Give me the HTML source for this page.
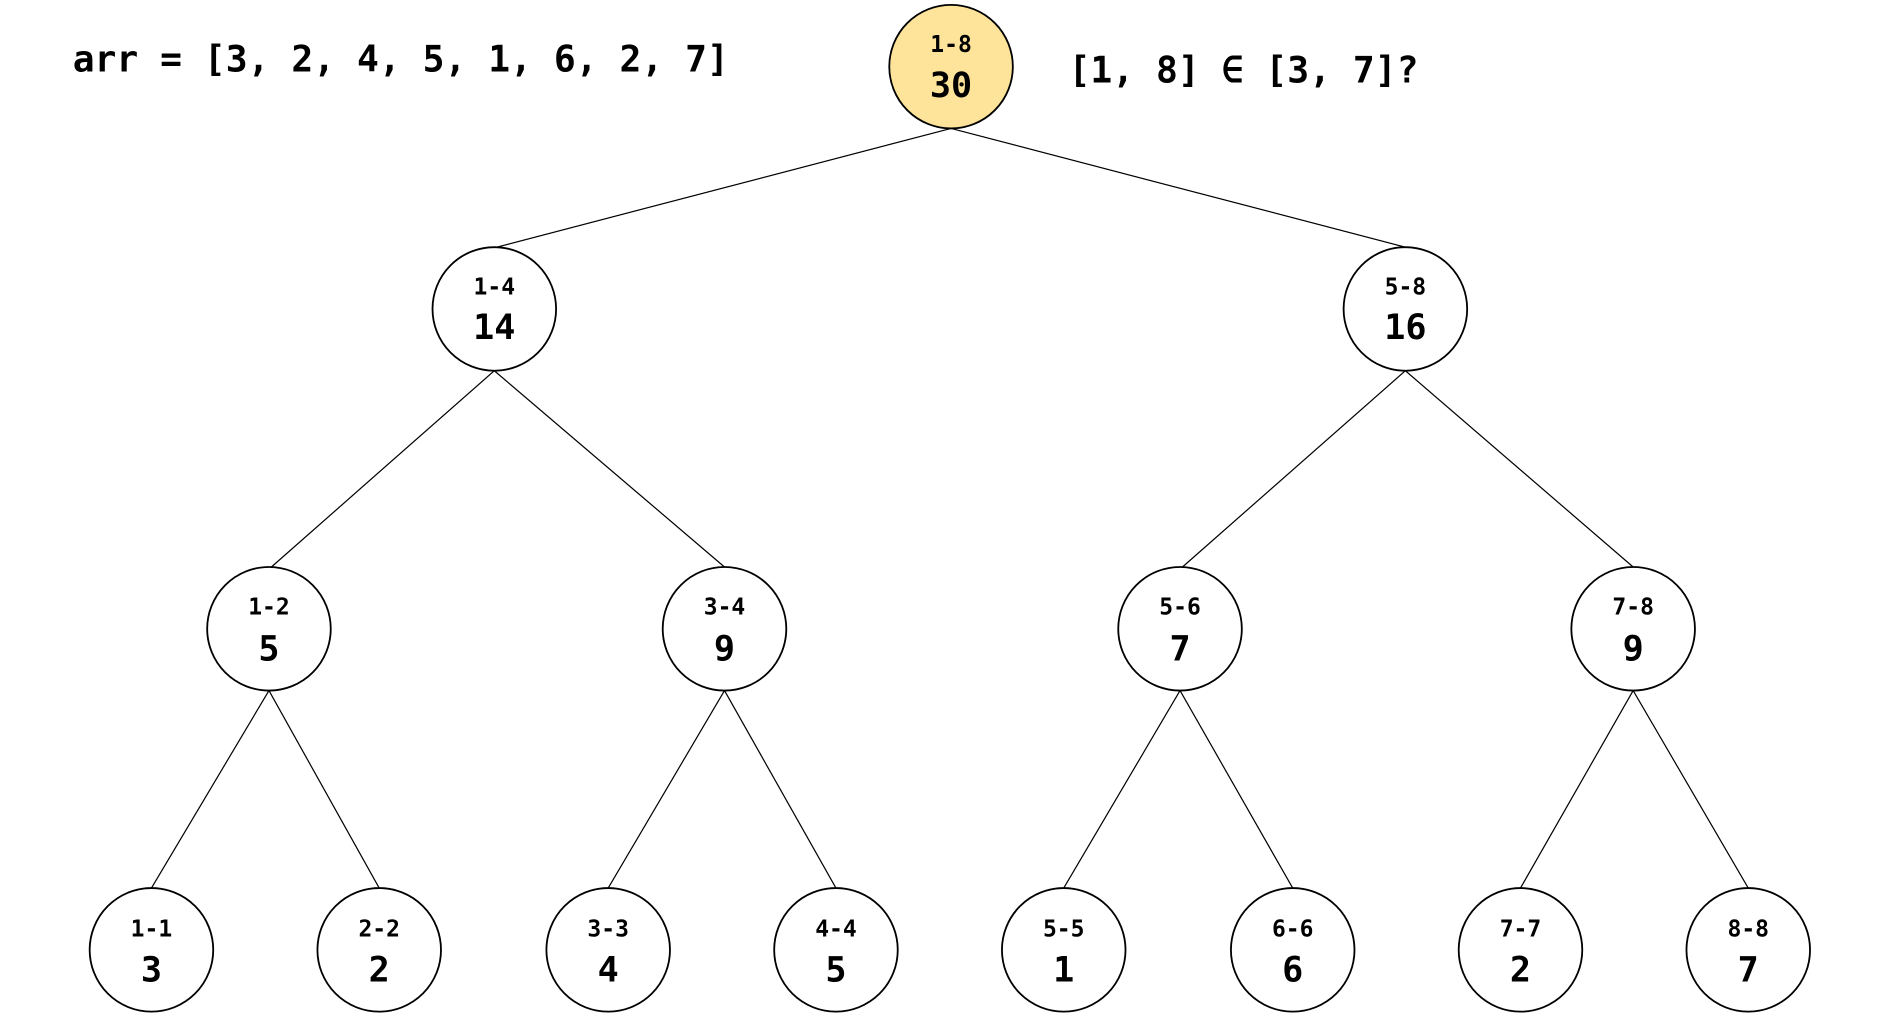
<!DOCTYPE html>
<html><head><meta charset="utf-8"><style>html,body{margin:0;padding:0;background:#fff}svg{display:block}</style></head><body>
<svg width="1890" height="1016" viewBox="0 0 1560 838.6" xmlns="http://www.w3.org/2000/svg" font-family="'DejaVu Sans Mono','Liberation Mono',monospace" font-weight="bold">
<g stroke="#000" stroke-width="1">
<line x1="785" y1="106" x2="410" y2="204"/><line x1="785" y1="106" x2="1160" y2="204"/>
<line x1="408" y1="306" x2="224" y2="468"/><line x1="408" y1="306" x2="598" y2="468"/>
<line x1="1160" y1="306" x2="976" y2="468"/><line x1="1160" y1="306" x2="1348" y2="468"/>
<line x1="222" y1="570" x2="125" y2="733"/><line x1="222" y1="570" x2="313" y2="733"/>
<line x1="598" y1="570" x2="502" y2="733"/><line x1="598" y1="570" x2="690" y2="733"/>
<line x1="974" y1="570" x2="878" y2="733"/><line x1="974" y1="570" x2="1067" y2="733"/>
<line x1="1348" y1="570" x2="1255" y2="733"/><line x1="1348" y1="570" x2="1443" y2="733"/>
</g>
<g stroke="#000" stroke-width="1.5" fill="#fff">
<circle cx="785" cy="55" r="51" fill="#fde49a"/>
<circle cx="408" cy="255" r="51"/><circle cx="1160" cy="255" r="51"/>
<circle cx="222" cy="519" r="51"/><circle cx="598" cy="519" r="51"/><circle cx="974" cy="519" r="51"/><circle cx="1348" cy="519" r="51"/>
<circle cx="125" cy="784" r="51"/><circle cx="313" cy="784" r="51"/><circle cx="502" cy="784" r="51"/><circle cx="690" cy="784" r="51"/>
<circle cx="878" cy="784" r="51"/><circle cx="1067" cy="784" r="51"/><circle cx="1255" cy="784" r="51"/><circle cx="1443" cy="784" r="51"/>
</g>
<g text-anchor="middle" font-size="19" fill="#000">
<text x="785" y="43">1-8</text>
<text x="408" y="243">1-4</text><text x="1160" y="243">5-8</text>
<text x="222" y="507">1-2</text><text x="598" y="507">3-4</text><text x="974" y="507">5-6</text><text x="1348" y="507">7-8</text>
<text x="125" y="773">1-1</text><text x="313" y="773">2-2</text><text x="502" y="773">3-3</text><text x="690" y="773">4-4</text>
<text x="878" y="773">5-5</text><text x="1067" y="773">6-6</text><text x="1255" y="773">7-7</text><text x="1443" y="773">8-8</text>
</g>
<g text-anchor="middle" font-size="29" fill="#000">
<text x="785" y="80">30</text>
<text x="408" y="280">14</text><text x="1160" y="280">16</text>
<text x="222" y="545">5</text><text x="598" y="545">9</text><text x="974" y="545">7</text><text x="1348" y="545">9</text>
<text x="125" y="810">3</text><text x="313" y="810">2</text><text x="502" y="810">4</text><text x="690" y="810">5</text>
<text x="878" y="810">1</text><text x="1067" y="810">6</text><text x="1255" y="810">2</text><text x="1443" y="810">7</text>
</g>
<text x="60" y="59" font-size="30" fill="#000">arr = [3, 2, 4, 5, 1, 6, 2, 7]</text>
<text x="882" y="68" font-size="30" fill="#000">[1, 8] ∈ [3, 7]?</text>
</svg>
</body></html>
